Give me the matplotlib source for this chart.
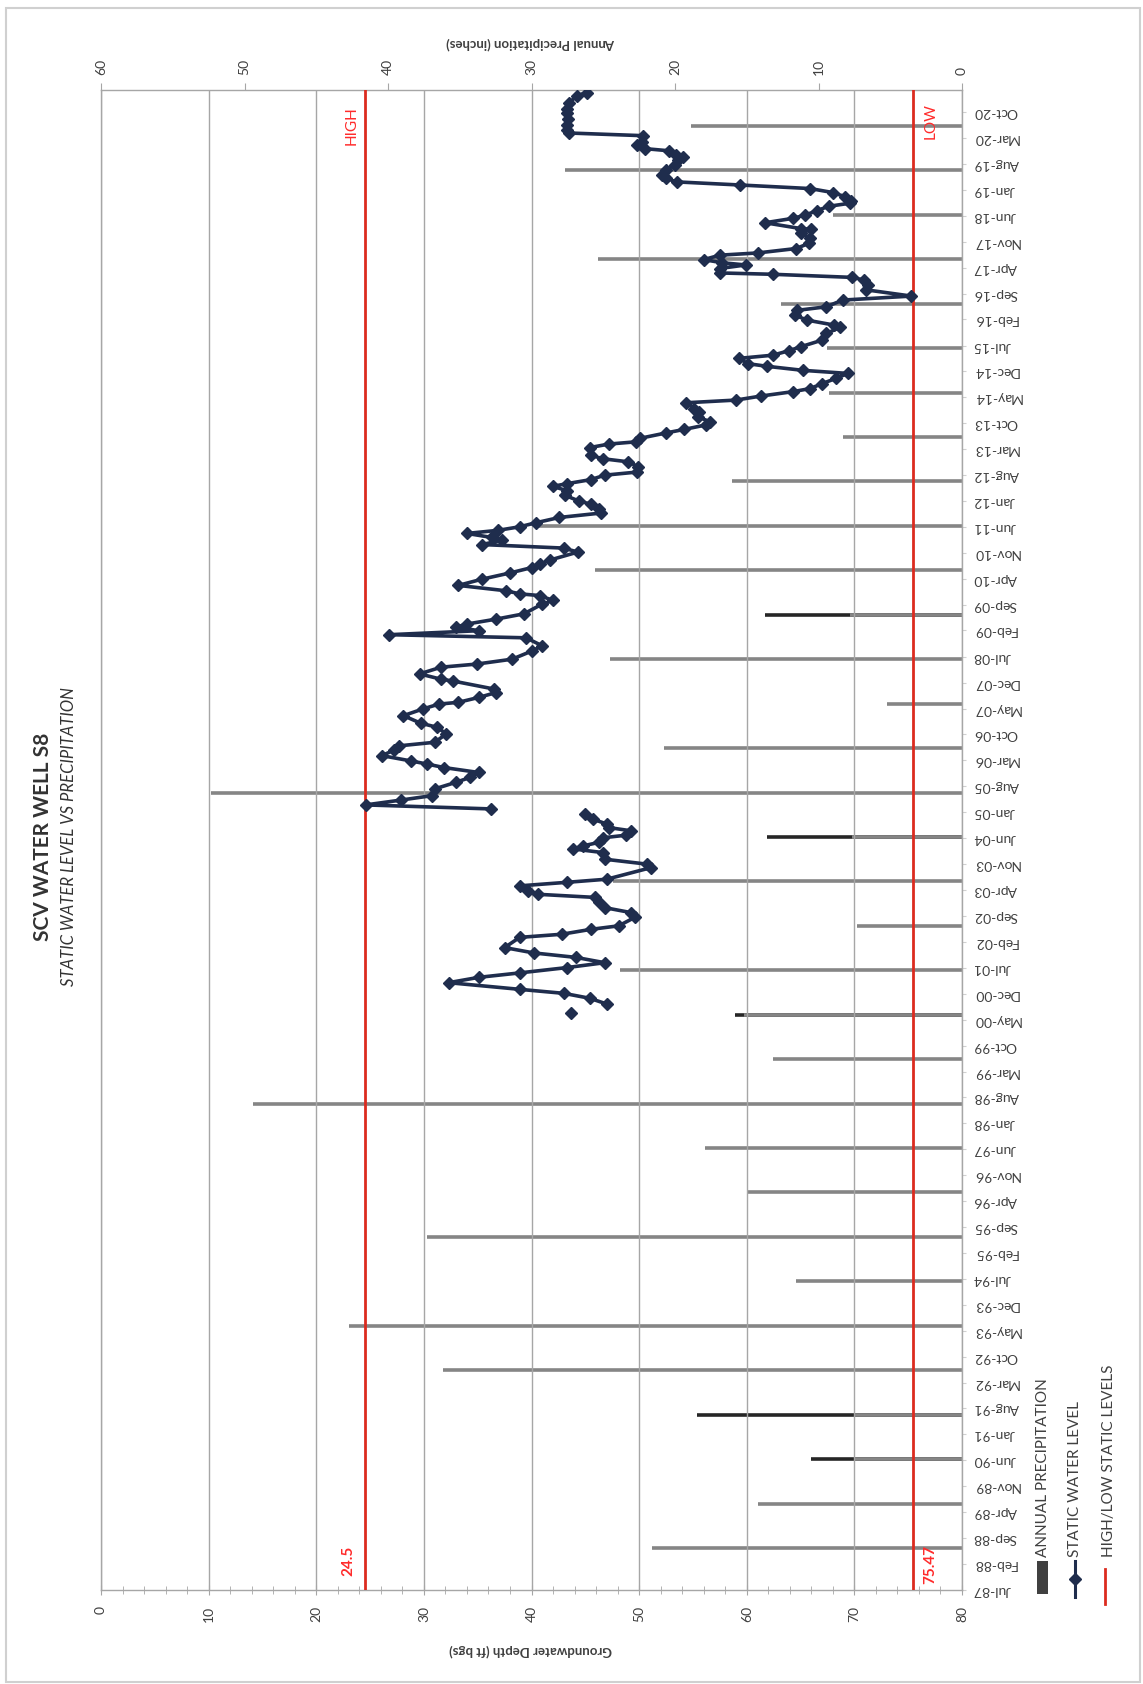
import numpy as np
import pandas as pd
import matplotlib
matplotlib.use("Agg")
import matplotlib.pyplot as plt
from matplotlib.patches import Rectangle
from matplotlib.lines import Line2D
from matplotlib.ticker import MultipleLocator
import matplotlib.transforms as mtransforms

plt.rcParams['font.family'] = ['Lato', 'DejaVu Sans']

# ---------------- data ----------------
# static water level: decimal-year dates and depth (ft bgs); NaN marks a gap in the record
level_year = [
    2000.48, 2000.60,
    2000.68, 2000.81, 2000.92, 2001.01, 2001.16, 2001.28, 2001.38, 2001.50, 2001.61, 2001.73,
    2001.83, 2001.95, 2002.18, 2002.25, 2002.36, 2002.44, 2002.63, 2002.74, 2002.85, 2002.97,
    2003.08, 2003.15, 2003.23, 2003.34, 2003.42, 2003.49, 2003.75, 2003.83, 2003.94, 2004.09,
    2004.17, 2004.24, 2004.32, 2004.42, 2004.48, 2004.58, 2004.65, 2004.73, 2004.84, 2004.95,
    2005.01,
    2005.07, 2005.16, 2005.27, 2005.37, 2005.52, 2005.67, 2005.78, 2005.89, 2006.00, 2006.08,
    2006.15, 2006.27, 2006.39, 2006.49, 2006.57, 2006.76, 2006.91, 2007.00, 2007.17, 2007.32,
    2007.43, 2007.47, 2007.58, 2007.69, 2007.77, 2007.95, 2007.99, 2008.11, 2008.26, 2008.33,
    2008.44, 2008.62, 2008.74, 2008.92, 2008.99, 2009.08, 2009.16, 2009.23, 2009.34, 2009.46,
    2009.68, 2009.76, 2009.87, 2009.91, 2009.98, 2010.10, 2010.24, 2010.38, 2010.50, 2010.58,
    2010.67, 2010.85, 2010.94, 2011.02, 2011.12, 2011.18, 2011.27, 2011.34, 2011.42, 2011.51,
    2011.63, 2011.73, 2011.83, 2011.93, 2012.00, 2012.13, 2012.23, 2012.33, 2012.39, 2012.48,
    2012.58, 2012.65, 2012.77, 2012.88, 2012.95, 2013.03, 2013.20, 2013.28, 2013.33, 2013.41,
    2013.53, 2013.61, 2013.71, 2013.78, 2013.89, 2014.01, 2014.08, 2014.21, 2014.27, 2014.36,
    2014.46, 2014.53, 2014.64, 2014.76, 2014.87, 2014.94, 2015.03, 2015.09, 2015.21, 2015.28,
    2015.38, 2015.47, 2015.62, 2015.77, 2015.91, 2015.96, 2016.07, 2016.18, 2016.29, 2016.37,
    2016.52, 2016.61, 2016.75, 2016.86, 2016.97, 2017.03, 2017.10, 2017.13, 2017.23, 2017.31,
    2017.36, 2017.43, 2017.53, 2017.58, 2017.68, 2017.80, 2017.91, 2018.03, 2018.11, 2018.13,
    2018.26, 2018.36, 2018.43, 2018.53, 2018.63, 2018.70, 2018.75, 2018.85, 2018.94, 2019.03,
    2019.11, 2019.18, 2019.26, 2019.33, 2019.45, 2019.56, 2019.68, 2019.73, 2019.78, 2019.88,
    2019.93, 2020.01, 2020.08, 2020.22, 2020.28, 2020.35, 2020.46, 2020.59, 2020.73, 2020.83,
    2020.95, 2021.12, 2021.19,
]
level_depth = [
    43.7, np.nan,
    47.0, 45.4, 43.0, 38.9, 32.3, 35.1, 38.9, 43.3, 46.8, 44.1,
    40.2, 37.5, 38.9, 42.8, 45.5, 48.1, 49.6, 49.2, 46.8, 46.3,
    45.9, 40.6, 39.7, 38.9, 43.3, 47.0, 51.1, 50.7, 46.8, 46.6,
    43.9, 44.8, 46.3, 46.6, 48.8, 49.2, 47.2, 47.0, 45.7, 45.0,
    np.nan,
    36.2, 24.6, 27.9, 30.8, 31.0, 33.0, 34.3, 35.1, 31.9, 30.3,
    28.8, 26.1, 27.2, 27.7, 31.0, 32.1, 31.2, 29.7, 28.1, 29.9,
    31.4, 33.2, 35.1, 36.7, 36.5, 32.7, 31.6, 29.6, 31.6, 34.9,
    38.2, 40.0, 41.0, 39.5, 26.8, 35.1, 33.0, 34.0, 36.7, 39.3,
    41.0, 42.0, 40.8, 38.9, 37.6, 33.2, 35.4, 38.0, 40.0, 40.8,
    41.7, 44.3, 43.0, 35.4, 37.3, 36.3, 34.0, 36.9, 38.9, 40.4,
    42.6, 46.5, 46.3, 45.5, 44.4, 43.1, 43.3, 42.0, 43.3, 45.5,
    46.8, 49.8, 49.9, 49.0, 46.6, 45.5, 45.4, 47.2, 49.7, 50.1,
    52.5, 54.2, 56.2, 56.6, 55.5, 55.6, 55.1, 54.4, 59.0, 61.3,
    64.3, 65.9, 67.0, 68.3, 69.4, 65.2, 61.9, 60.1, 59.3, 62.4,
    63.9, 65.0, 67.0, 67.4, 68.7, 68.1, 65.6, 64.5, 64.7, 67.4,
    68.9, 75.3, 71.1, 71.3, 70.9, 69.8, 62.4, 57.5, 57.5, 59.9,
    57.7, 56.0, 57.5, 61.0, 64.6, 65.8, 65.9, 65.0, 66.0, 65.0,
    61.7, 64.3, 65.4, 66.5, 67.6, 69.6, 69.7, 69.1, 68.0, 65.9,
    59.4, 53.5, 52.5, 52.1, 52.5, 53.3, 53.6, 54.1, 53.4, 52.8,
    50.5, 49.8, 50.3, 50.4, 43.5, 43.3, 43.3, 43.4, 43.3, 43.3,
    43.5, 44.2, 45.2,
]

# annual precipitation (inches), plotted mid-year
precip_year = list(range(1988, 2021))
precip_in = [
    21.6, 14.2, 7.5, 7.5, 36.2, 42.7, 11.6, 37.3, 14.9, 17.9,
    49.4, 13.2, 15.2, 23.8, 7.3, 24.3, 7.7, 52.3, 20.8, 5.2,
    24.5, 7.8, 25.6, 29.8, 16.0, 8.3, 9.3, 9.4, 12.6, 25.4,
    9.0, 27.7, 18.9,
]
# second (darker) precipitation bars seen in a few years
precip_dark_year = [1990, 1991, 2000, 2004, 2009]
precip_dark_in = [10.5, 18.5, 15.85, 13.6, 13.7]

high_level = 24.5
low_level = 75.47
date_start = "1987-07-01"
date_end = "2021-04-01"
last_label = "2020-10-01"

# ---------------- helpers ----------------
def to_dt(vals):
    out = []
    for v in vals:
        y = int(np.floor(v))
        frac = v - y
        s = pd.Timestamp(year=y, month=1, day=1)
        e = pd.Timestamp(year=y + 1, month=1, day=1)
        out.append(s + (e - s) * frac)
    return out

W, H = 1143, 1684
def fx(px):
    return px / W
def fy(py):
    return 1 - py / H

GRAY_TXT = '#404040'
GRID = '#a6a6a6'
NAVY = '#1f2d4d'
RED_LINE = '#dc2b1f'
RED_TXT = '#ff2b2b'

fig = plt.figure(figsize=(W / 100, H / 100), dpi=100, facecolor='white')

L, R, T, B = 101, 962, 90, 1590
ax = fig.add_axes([fx(L), fy(B), fx(R) - fx(L), fy(T) - fy(B)])
ax2 = ax.twiny()
ax.set_zorder(ax2.get_zorder() + 1)
ax.patch.set_visible(False)
ax2.patch.set_visible(True)
ax2.set_facecolor('white')

# ---- precipitation bars (top axis, 60 -> 0) ----
p_dates = [pd.Timestamp(year=y, month=6, day=10) for y in precip_year]
pd_dates = [pd.Timestamp(year=y, month=6, day=10) for y in precip_dark_year]
ax2.hlines(pd_dates, 0, precip_dark_in, colors='#262626', lw=2.6, zorder=2)
ax2.hlines(p_dates, 0, precip_in, colors='#858585', lw=2.6, zorder=3)
ax2.set_xlim(60, 0)
ax2.set_xticks(np.arange(0, 61, 10))
ax2.tick_params(axis='x', which='major', direction='out', length=5, color=GRID,
                labelrotation=90, labelsize=10, labelcolor=GRAY_TXT, pad=6)
for s in ax2.spines.values():
    s.set_visible(False)

# ---- water level (x = depth, y = date) ----
lv_dates = to_dt(level_year)
ax.plot(level_depth, lv_dates, color=NAVY, lw=2.6, marker='D', ms=6.5,
        markerfacecolor=NAVY, markeredgecolor=NAVY, zorder=5)

ax.axvline(high_level, color=RED_LINE, lw=2.0, zorder=4)
ax.axvline(low_level, color=RED_LINE, lw=2.0, zorder=4)

ax.set_xlim(0, 80)
ax.set_ylim(pd.Timestamp(date_start), pd.Timestamp(date_end))
ax.set_xticks(np.arange(0, 81, 10))
ax.set_xticklabels([str(v) for v in range(0, 81, 10)])
ax.xaxis.set_minor_locator(MultipleLocator(2))
ax.grid(axis='x', which='major', color=GRID, lw=1.0)
ax.tick_params(axis='x', which='major', direction='inout', length=7, color=GRID,
               labelrotation=90, labelsize=10, labelcolor=GRAY_TXT, pad=8)
ax.tick_params(axis='x', which='minor', direction='inout', length=6, color=GRID)

date_ticks = pd.date_range(date_start, last_label, freq='7MS')
ax.yaxis.tick_right()
ax.set_yticks(date_ticks)
ax.set_yticklabels([d.strftime('%b-%y') for d in date_ticks])
ax.tick_params(axis='y', which='major', direction='out', length=3, color='#d0d0d0',
               labelsize=10, labelcolor=GRAY_TXT, pad=5)
for lab in ax.get_yticklabels():
    lab.set_rotation(180)
    lab.set_va('center')
    lab.set_ha('left')
for s in ax.spines.values():
    s.set_color(GRID)
    s.set_linewidth(1.0)

# high / low annotations
trans = mtransforms.blended_transform_factory(ax.transData, ax.transAxes)
ax.text(high_level - 0.6, 0.989, 'HIGH', transform=trans, rotation=90, ha='right', va='top',
        color=RED_TXT, fontsize=11)
ax.text(low_level + 1.0, 0.991, 'LOW', transform=trans, rotation=90, ha='left', va='top',
        color=RED_TXT, fontsize=11)
ax.text(high_level - 0.85, 0.009, '24.5', transform=trans, rotation=90, ha='right', va='bottom',
        color=RED_TXT, fontsize=11, fontweight='bold')
ax.text(low_level + 0.95, 0.004, '75.47', transform=trans, rotation=90, ha='left', va='bottom',
        color=RED_TXT, fontsize=11, fontweight='bold')

# axis titles (rotated with the chart)
fig.text(fx(531), fy(43), 'Annual Precipitation (inches)', rotation=180, ha='center', va='center',
         fontsize=9.5, fontweight='bold', color=GRAY_TXT)
fig.text(fx(531), fy(1650), 'Groundwater Depth (ft bgs)', rotation=180, ha='center', va='center',
         fontsize=9.5, fontweight='bold', color=GRAY_TXT)

# titles
fig.text(fx(43), fy(837), 'SCV WATER WELL S8', rotation=90, ha='center', va='center',
         fontsize=15, fontweight='bold', color='#333333')
fig.text(fx(69), fy(837), 'STATIC WATER LEVEL VS PRECIPITATION', rotation=90, ha='center',
         va='center', fontsize=12, fontstyle='italic', color='#333333')

# legend (rotated layout)
fig.patches.append(Rectangle((fx(1037), fy(1594)), fx(11), 33 / H, transform=fig.transFigure,
                             facecolor='#404040', edgecolor='none'))
fig.text(fx(1043), fy(1557), 'ANNUAL PRECIPITATION', rotation=90, ha='center', va='bottom',
         fontsize=11, color=GRAY_TXT)
fig.lines.append(Line2D([fx(1075), fx(1075)], [fy(1561), fy(1597)], transform=fig.transFigure,
                        color=NAVY, lw=2.2))
fig.lines.append(Line2D([fx(1075)], [fy(1579)], transform=fig.transFigure, color=NAVY,
                        marker='D', ms=6, lw=0))
fig.text(fx(1075), fy(1557), 'STATIC WATER LEVEL', rotation=90, ha='center', va='bottom',
         fontsize=11, color=GRAY_TXT)
fig.lines.append(Line2D([fx(1105), fx(1105)], [fy(1569), fy(1604)], transform=fig.transFigure,
                        color=RED_LINE, lw=2.0))
fig.text(fx(1109), fy(1557), 'HIGH/LOW STATIC LEVELS', rotation=90, ha='center', va='bottom',
         fontsize=11, color=GRAY_TXT)

# chart border
fig.patches.append(Rectangle((fx(6), fy(1682)), fx(1140) - fx(6), (1682 - 8) / H,
                             transform=fig.transFigure, fill=False, edgecolor='#d0d0d0', lw=1.5))

fig.savefig('out.png', dpi=100, facecolor='white')
